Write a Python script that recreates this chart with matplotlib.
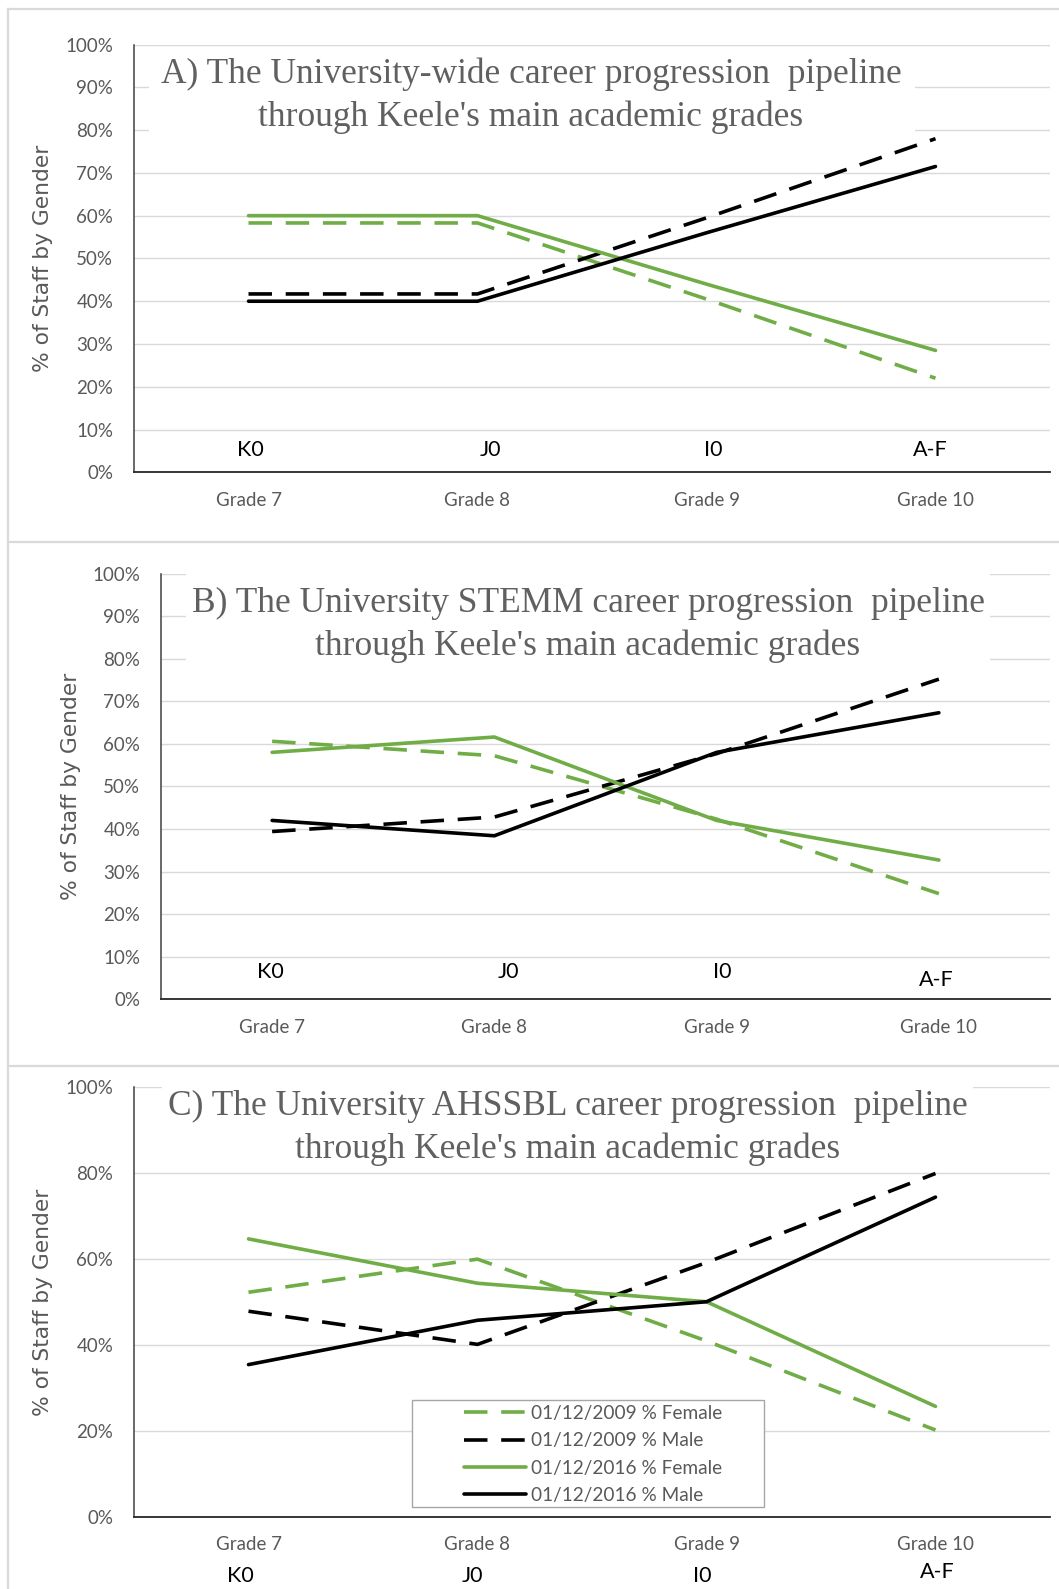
import matplotlib
matplotlib.use("Agg")
import matplotlib.pyplot as plt
from matplotlib.patches import Rectangle
from matplotlib.lines import Line2D
import matplotlib.transforms as mtrans
from matplotlib.ticker import FuncFormatter, MultipleLocator

# ---------------- data ----------------
grades = ["Grade 7", "Grade 8", "Grade 9", "Grade 10"]
codes = ["K0", "J0", "I0", "A-F"]
series_labels = ["01/12/2009 % Female", "01/12/2009 % Male",
                 "01/12/2016 % Female", "01/12/2016 % Male"]

a_female_2009 = [58.3, 58.3, 40.5, 22.0]
a_male_2009 = [41.7, 41.7, 59.5, 78.0]
a_female_2016 = [60.0, 60.0, 44.0, 28.5]
a_male_2016 = [40.0, 40.0, 56.0, 71.5]

b_female_2009 = [60.6, 57.2, 42.3, 24.8]
b_male_2009 = [39.4, 42.8, 57.7, 75.2]
b_female_2016 = [58.0, 61.6, 42.0, 32.7]
b_male_2016 = [42.0, 38.4, 58.0, 67.3]

c_female_2009 = [52.2, 59.9, 40.9, 20.2]
c_male_2009 = [47.8, 40.1, 59.1, 79.8]
c_female_2016 = [64.6, 54.3, 50.0, 25.7]
c_male_2016 = [35.4, 45.7, 50.0, 74.3]

title_a = "A) The University-wide career progression  pipeline\nthrough Keele's main academic grades"
title_b = "B) The University STEMM career progression  pipeline\nthrough Keele's main academic grades"
title_c = "C) The University AHSSBL career progression  pipeline\nthrough Keele's main academic grades"
ylabel = "% of Staff by Gender"

# ---------------- style ----------------
GREEN = "#70AD47"
BLACK = "#000000"
GREY_TXT = "#595959"
GRID = "#D9D9D9"
LW = 2.6
DASH = (6.5, 3.8)
TICK_FONT = "Lato"
TITLE_FONT = "Liberation Serif"
TICK_SIZE = 13.5

W, H = 1059, 1589
fig = plt.figure(figsize=(W / 100, H / 100), dpi=100)
fig.patch.set_facecolor("white")

def fx(x):
    return x / W

def fy(y):
    return 1 - y / H

# panel borders
for (x0, y0, x1, y1) in [(8, 9, W, 9), (8, 9, 8, H), (8, 542, W, 542), (8, 1066, W, 1066)]:
    fig.add_artist(Line2D([fx(x0), fx(x1)], [fy(y0), fy(y1)], transform=fig.transFigure,
                          color="#D9D9D9", lw=1.6))

panels = [
    dict(box=(134, 44.6, 1050, 472.3), step=10,
         series=(a_female_2009, a_male_2009, a_female_2016, a_male_2016),
         title=title_a, title_xy=(531, 96), title_rect=(149, 55, 915, 140),
         ylab_xy=(43, 258), code_y=[5.1, 5.1, 5.1, 5.1],
         code_dx=[0.01, 0.057, 0.028, -0.024],
         code_inside=True, legend=False),
    dict(box=(161, 573.6, 1050, 999.2), step=10,
         series=(b_female_2009, b_male_2009, b_female_2016, b_male_2016),
         title=title_b, title_xy=(588, 625), title_rect=(186, 566, 990, 672),
         ylab_xy=(71, 786), code_y=[6.3, 6.3, 6.3, 4.6],
         code_dx=[-0.007, 0.063, 0.025, -0.013],
         code_inside=True, legend=False),
    dict(box=(134, 1086.5, 1050, 1517), step=20,
         series=(c_female_2009, c_male_2009, c_female_2016, c_male_2016),
         title=title_c, title_xy=(568, 1128), title_rect=(162, 1078, 973, 1165),
         ylab_xy=(43, 1302), code_y=[-0.161, -0.161, -0.161, -0.152],
         code_dx=[-0.037, -0.02, -0.02, 0.007],
         code_inside=False, legend=True),
]

styles = [dict(color=GREEN, ls="--"), dict(color=BLACK, ls="--"),
          dict(color=GREEN, ls="-"), dict(color=BLACK, ls="-")]

x = list(range(len(grades)))

for p in panels:
    l, t, r, b = p["box"]
    ax = fig.add_axes([fx(l), fy(b), (r - l) / W, (b - t) / H])
    handles = []
    for vals, st, lab in zip(p["series"], styles, series_labels):
        if st["ls"] == "--":
            ln, = ax.plot(x, vals, color=st["color"], lw=LW, dashes=DASH,
                          dash_capstyle="butt", label=lab, zorder=3)
        else:
            ln, = ax.plot(x, vals, color=st["color"], lw=LW, solid_capstyle="round",
                          solid_joinstyle="round", label=lab, zorder=3)
        handles.append(ln)
    ax.set_xlim(-0.5, 3.5)
    ax.set_ylim(0, 100)
    ax.yaxis.set_major_locator(MultipleLocator(p["step"]))
    ax.yaxis.set_major_formatter(FuncFormatter(lambda v, pos: f"{v:.0f}%"))
    ax.set_xticks(x)
    ax.set_xticklabels(grades)
    ax.grid(axis="y", color=GRID, lw=1.0)
    ax.set_axisbelow(True)
    for s in ("top", "right"):
        ax.spines[s].set_visible(False)
    ax.spines["left"].set_color("#404040")
    ax.spines["left"].set_linewidth(1.1)
    ax.spines["bottom"].set_color("#262626")
    ax.spines["bottom"].set_linewidth(1.3)
    ax.tick_params(axis="both", length=0, labelcolor=GREY_TXT, labelsize=TICK_SIZE)
    ax.tick_params(axis="y", pad=15)
    ax.tick_params(axis="x", pad=14)
    for lbl in ax.get_xticklabels() + ax.get_yticklabels():
        lbl.set_fontfamily(TICK_FONT)

    # title with white panel behind it
    tx0, ty0, tx1, ty1 = p["title_rect"]
    ax.add_patch(Rectangle((fx(tx0), fy(ty1)), (tx1 - tx0) / W, (ty1 - ty0) / H,
                           transform=fig.transFigure, facecolor="white",
                           edgecolor="none", zorder=2.5, clip_on=False))
    fig.text(fx(p["title_xy"][0]), fy(p["title_xy"][1]), p["title"], ha="center",
             va="center", multialignment="center", fontsize=25.5, family=TITLE_FONT,
             color="#606060", linespacing=1.38, zorder=5)

    fig.text(fx(p["ylab_xy"][0]), fy(p["ylab_xy"][1]), ylabel, rotation=90,
             ha="center", va="center", fontsize=15.7, family="DejaVu Sans", color=GREY_TXT)

    if p["code_inside"]:
        for i, c in enumerate(codes):
            ax.text(i + p["code_dx"][i], p["code_y"][i], c, ha="center", va="center",
                    fontsize=15.5, family=TICK_FONT, color="black", zorder=4)
    else:
        trans = mtrans.blended_transform_factory(ax.transData, ax.transAxes)
        for i, c in enumerate(codes):
            ax.text(i + p["code_dx"][i], p["code_y"][i], c, ha="center", va="bottom",
                    fontsize=15.5, family=TICK_FONT, color="black", transform=trans,
                    clip_on=False)

    if p["legend"]:
        ax.add_patch(Rectangle((fx(412), fy(1507)), (764 - 412) / W, (1507 - 1400) / H,
                               transform=fig.transFigure, facecolor="white",
                               edgecolor="#A6A6A6", lw=1.0, zorder=2.6, clip_on=False))
        leg = ax.legend(handles=handles, loc="upper left", frameon=False,
                        bbox_to_anchor=(fx(464), fy(1405)), bbox_transform=fig.transFigure,
                        borderpad=0, borderaxespad=0, handlelength=3.25,
                        handletextpad=0.28, labelspacing=0.54,
                        prop=dict(family=TICK_FONT, size=13.7))
        leg.set_zorder(4)
        for tt in leg.get_texts():
            tt.set_color(GREY_TXT)

fig.savefig("out.png", dpi=100, facecolor="white")
